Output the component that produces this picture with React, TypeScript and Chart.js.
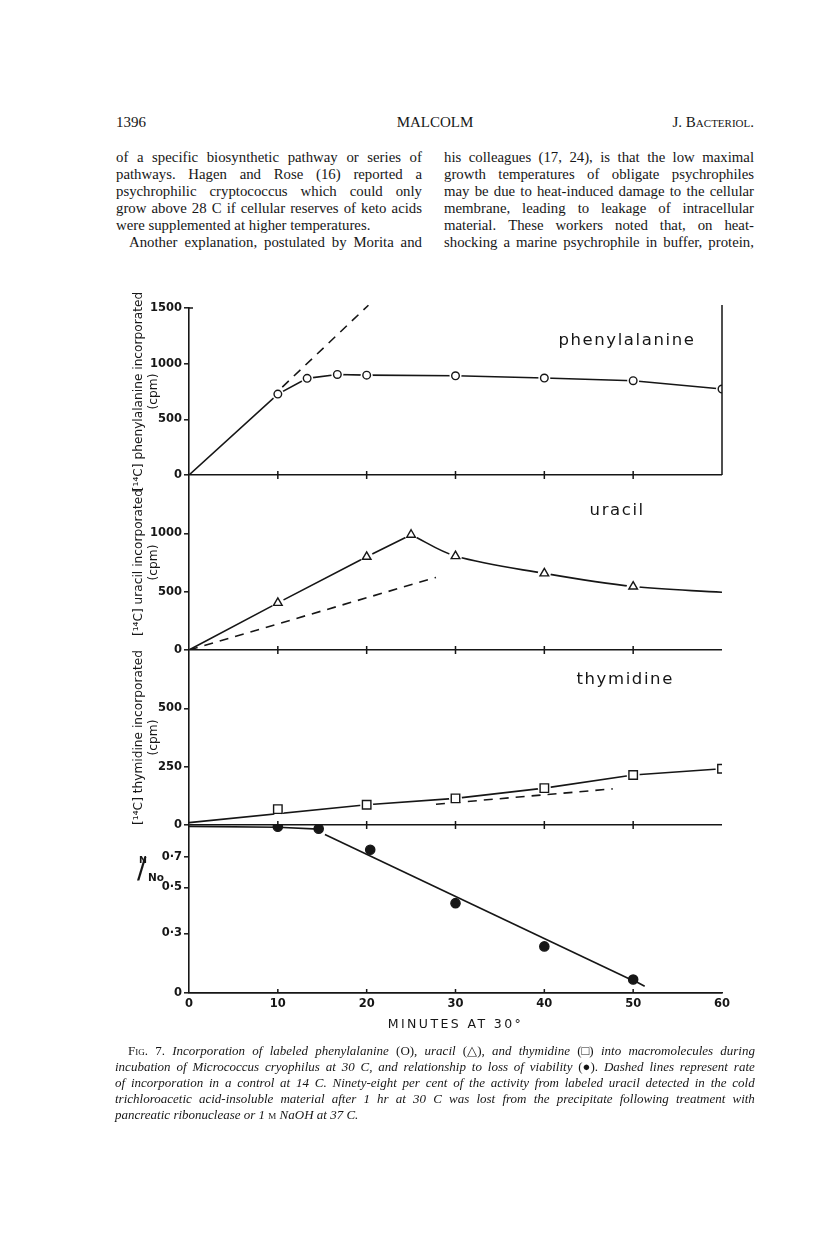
import React, { useEffect, useRef } from "react";
import { Chart, registerables } from "chart.js";

Chart.register(...registerables);

// ---------------- data ----------------
const minuteTicks = [0, 10, 20, 30, 40, 50, 60];

// Panel 1 - [14C] phenylalanine incorporated (cpm), circles
const pheMinutes = [10, 13.3, 16.7, 20, 30, 40, 50, 60];
const pheCpm = [727, 868, 903, 897, 891, 871, 847, 772];
const pheLineMinutes = [0, 10, 13.3, 16.7, 20, 30, 40, 50, 60];
const pheLineCpm = [0, 727, 868, 903, 897, 891, 871, 847, 772];
const pheControlMinutes = [10.5, 20.2];
const pheControlCpm = [790, 1525];
const pheTicks = [0, 500, 1000, 1500];
const pheTickLabels = ["0", "500", "1000", "1500"];

// Panel 2 - [14C] uracil incorporated (cpm), triangles
const uraMinutes = [10, 20, 25, 30, 40, 50];
const uraCpm = [404, 799, 988, 805, 657, 544];
const uraRiseMinutes = [0, 10, 20, 25];
const uraRiseCpm = [0, 404, 799, 988];
const uraFallMinutes = [25, 30, 40, 50, 60];
const uraFallCpm = [988, 805, 657, 544, 495];
const uraControlMinutes = [0, 27.8];
const uraControlCpm = [0, 622];
const uraTicks = [0, 500, 1000];
const uraTickLabels = ["0", "500", "1000"];

// Panel 3 - [14C] thymidine incorporated (cpm), squares
const thyMinutes = [10, 20, 30, 40, 50, 60];
const thyCpm = [68, 87, 114, 158, 214, 241];
const thyLineMinutes = [0, 20, 30, 40, 50, 60];
const thyLineCpm = [10, 87, 114, 158, 214, 241];
const thyControlMinutes = [27.8, 47.7];
const thyControlCpm = [89, 155];
const thyTicks = [0, 250, 500];
const thyTickLabels = ["0", "250", "500"];

// Panel 4 - viability N/No (log axis), filled circles
const viaMinutes = [10, 14.6, 20.4, 30, 40, 50];
const viaFraction = [0.98, 0.96, 0.76, 0.42, 0.26, 0.18];
const viaEarlyMinutes = [0, 10, 14.6];
const viaEarlyFraction = [0.985, 0.975, 0.955];
const viaFitMinutes = [15.3, 49.6];
const viaFitFraction = [0.9, 0.181];
const viaTailMinutes = [50.4, 51.3];
const viaTailFraction = [0.175, 0.167];
const viaTicks = [0.155, 0.3, 0.5, 0.7];
const viaTickLabels = ["0", "0·3", "0·5", "0·7"];

const panelNames = ["phenylalanine", "uracil", "thymidine"];

// ---------------- text ----------------
const leftColumn = [
  { t: "of a specific biosynthetic pathway or series of", j: true },
  { t: "pathways. Hagen and Rose (16) reported a", j: true },
  { t: "psychrophilic cryptococcus which could only", j: true },
  { t: "grow above 28 C if cellular reserves of keto acids", j: true },
  { t: "were supplemented at higher temperatures.", j: false },
  { t: "Another explanation, postulated by Morita and", j: true, indent: 13 },
];
const rightColumn = [
  { t: "his colleagues (17, 24), is that the low maximal", j: true },
  { t: "growth temperatures of obligate psychrophiles", j: true },
  { t: "may be due to heat-induced damage to the cellular", j: true },
  { t: "membrane, leading to leakage of intracellular", j: true },
  { t: "material. These workers noted that, on heat-", j: true },
  { t: "shocking a marine psychrophile in buffer, protein,", j: true },
];
// "^" = upright, "~" = upright small caps
const captionLines = [
  { t: "~Fig. ^7. Incorporation of labeled phenylalanine ^(O), uracil ^(△), and thymidine ^(□) into macromolecules during", j: true, indent: 13 },
  { t: "incubation of Micrococcus cryophilus at 30 C, and relationship to loss of viability ^(●). Dashed lines represent rate", j: true },
  { t: "of incorporation in a control at 14 C. Ninety-eight per cent of the activity from labeled uracil detected in the cold", j: true },
  { t: "trichloroacetic acid-insoluble material after 1 hr at 30 C was lost from the precipitate following treatment with", j: true },
  { t: "pancreatic ribonuclease or 1 ~m NaOH at 37 C.", j: false },
];

const INK = "#161616";
const SANS = '"DejaVu Sans", "Liberation Sans", sans-serif';

const pts = (xs: number[], ys: number[]) => xs.map((x, i) => ({ x, y: ys[i] }));

function lineDs(xs: number[], ys: number[], yAxisID: string, extra: any = {}) {
  return {
    data: pts(xs, ys),
    yAxisID,
    showLine: true,
    borderColor: INK,
    borderWidth: 1.6,
    pointRadius: 0,
    pointHoverRadius: 0,
    fill: false,
    tension: 0,
    order: 3,
    ...extra,
  };
}
function haloDs(xs: number[], ys: number[], yAxisID: string, r: number) {
  return {
    data: pts(xs, ys),
    yAxisID,
    showLine: false,
    pointStyle: "circle",
    pointRadius: r,
    pointHoverRadius: r,
    pointBackgroundColor: "#ffffff",
    pointBorderColor: "#ffffff",
    pointBorderWidth: 0,
    order: 2,
  };
}
function markerDs(xs: number[], ys: number[], yAxisID: string, style: string, r: number, filled = false) {
  return {
    data: pts(xs, ys),
    yAxisID,
    showLine: false,
    pointStyle: style,
    pointRadius: r,
    pointHoverRadius: r,
    pointBorderColor: INK,
    pointBorderWidth: 1.4,
    pointBackgroundColor: filled ? INK : "#ffffff",
    order: 1,
  };
}

function yScale(
  tickValues: number[],
  labels: string[],
  min: number,
  max: number,
  weight: number,
  title: string[] | null,
  type = "linear"
) {
  return {
    type,
    position: "left",
    stack: "panels",
    stackWeight: weight,
    min,
    max,
    afterBuildTicks: (s: any) => {
      s.ticks = tickValues.map((v) => ({ value: v }));
    },
    afterFit: (s: any) => {
      s.width = 79;
    },
    ticks: {
      callback: (_v: any, i: number) => labels[i],
      font: { family: SANS, size: 11.5, weight: "bold" },
      color: INK,
      padding: 2,
    },
    grid: {
      drawOnChartArea: true,
      color: (c: any) => (c.tick && c.tick.value === tickValues[0] ? INK : "rgba(0,0,0,0)"),
      lineWidth: 1.6,
      tickColor: INK,
      tickLength: 5,
      tickWidth: 1.5,
    },
    border: { display: true, color: INK, width: 1.6 },
    title: {
      display: !!title,
      text: title || "",
      font: { family: SANS, size: 12.2 },
      color: INK,
      padding: { top: 22, bottom: 0 },
    },
  };
}

const decorPlugin = {
  id: "figureDecor",
  afterDatasetsDraw(chart: any) {
    const { ctx, chartArea, scales } = chart;
    const xs = scales.x;
    const ids = ["y1", "y2", "y3", "y4"];
    ctx.save();
    ctx.strokeStyle = INK;
    ctx.lineWidth = 1.5;
    ctx.beginPath();
    ids.forEach((id, k) => {
      const yb = scales[id].bottom;
      minuteTicks.slice(1, -1).forEach((v) => {
        const px = xs.getPixelForValue(v);
        ctx.moveTo(px, yb - 4);
        ctx.lineTo(px, k < 3 ? yb + 4 : yb);
      });
    });
    // right frame of the top panel and short tick pointing in at 1500
    ctx.moveTo(chartArea.right, scales.y1.top - 3);
    ctx.lineTo(chartArea.right, scales.y1.bottom);
    ctx.moveTo(chartArea.left, scales.y1.top);
    ctx.lineTo(chartArea.left + 4, scales.y1.top);
    ctx.stroke();

    ctx.fillStyle = INK;
    ctx.font = `16.5px ${SANS}`;
    try {
      (ctx as any).letterSpacing = "1.6px";
    } catch (e) {}
    ctx.textAlign = "center";
    ctx.textBaseline = "middle";
    const spots = [
      { id: "y1", m: 49.3, v: 1205 },
      { id: "y2", m: 48.2, v: 1190 },
      { id: "y3", m: 49.1, v: 621 },
    ];
    panelNames.forEach((name, k) => {
      const s = spots[k];
      ctx.fillText(name, xs.getPixelForValue(s.m), scales[s.id].getPixelForValue(s.v));
    });
    ctx.restore();
  },
};

function Words({ text, justify, indent, italic }: { text: string; justify: boolean; indent?: number; italic?: boolean }) {
  const words = text.split(" ");
  const render = (w: string, i: number) => {
    let style: any = {};
    let s = w;
    if (w.startsWith("^")) {
      s = w.slice(1);
      style = { fontStyle: "normal" };
    } else if (w.startsWith("~")) {
      s = w.slice(1);
      style = { fontStyle: "normal", fontVariant: "small-caps" };
    }
    return (
      <span key={i} style={style}>
        {s}
      </span>
    );
  };
  if (justify) {
    return (
      <div
        style={{
          display: "flex",
          justifyContent: "space-between",
          whiteSpace: "nowrap",
          paddingLeft: indent || 0,
          fontStyle: italic ? "italic" : "normal",
        }}
      >
        {words.map(render)}
      </div>
    );
  }
  return (
    <div style={{ whiteSpace: "nowrap", paddingLeft: indent || 0, fontStyle: italic ? "italic" : "normal" }}>
      {words.map((w, i) => (
        <React.Fragment key={i}>
          {i > 0 ? " " : ""}
          {render(w, i)}
        </React.Fragment>
      ))}
    </div>
  );
}

export default function App() {
  const canvasRef = useRef<HTMLCanvasElement | null>(null);

  useEffect(() => {
    if (!canvasRef.current) return;
    const chart = new Chart(canvasRef.current, {
      type: "scatter",
      data: {
        datasets: [
          // panel 1
          lineDs(pheLineMinutes, pheLineCpm, "y1"),
          lineDs(pheControlMinutes, pheControlCpm, "y1", { borderDash: [9, 7], clip: false }),
          haloDs(pheMinutes, pheCpm, "y1", 6),
          markerDs(pheMinutes, pheCpm, "y1", "circle", 3.8),
          // panel 2
          lineDs(uraRiseMinutes, uraRiseCpm, "y2"),
          lineDs(uraFallMinutes, uraFallCpm, "y2", { tension: 0.35 }),
          lineDs(uraControlMinutes, uraControlCpm, "y2", { borderDash: [9, 7] }),
          haloDs(uraMinutes, uraCpm, "y2", 6.5),
          markerDs(uraMinutes, uraCpm, "y2", "triangle", 5),
          // panel 3
          lineDs(thyLineMinutes, thyLineCpm, "y3"),
          lineDs(thyControlMinutes, thyControlCpm, "y3", { borderDash: [9, 7] }),
          haloDs(thyMinutes, thyCpm, "y3", 6.5),
          markerDs(thyMinutes, thyCpm, "y3", "rect", 6),
          // panel 4
          lineDs(viaEarlyMinutes, viaEarlyFraction, "y4"),
          lineDs(viaFitMinutes, viaFitFraction, "y4"),
          lineDs(viaTailMinutes, viaTailFraction, "y4"),
          markerDs(viaMinutes, viaFraction, "y4", "circle", 4.6, true),
        ] as any,
      },
      options: {
        animation: false,
        responsive: true,
        maintainAspectRatio: false,
        events: [],
        layout: { padding: { top: 38, right: 18, left: 0, bottom: 0 } },
        plugins: { legend: { display: false }, tooltip: { enabled: false }, title: { display: false } },
        scales: {
          x: {
            type: "linear",
            position: "bottom",
            min: 0,
            max: 60,
            afterBuildTicks: (s: any) => {
              s.ticks = minuteTicks.map((v) => ({ value: v }));
            },
            afterFit: (s: any) => {
              s.height = 42;
            },
            ticks: { font: { family: SANS, size: 11.5, weight: "bold" }, color: INK, padding: 1, maxRotation: 0 },
            grid: { display: false, drawTicks: true, tickLength: 3 },
            border: { display: true, color: INK, width: 1.6 },
          },
          // stacked panels are placed bottom-up in definition order
          y4: yScale(viaTicks, viaTickLabels, 0.155, 1, 168, null, "logarithmic"),
          y3: yScale(thyTicks, thyTickLabels, 0, 750, 175, ["[¹⁴C] thymidine incorporated", "(cpm)"]),
          y2: yScale(uraTicks, uraTickLabels, 0, 1500, 175, ["[¹⁴C] uracil incorporated", "(cpm)"]),
          y1: yScale(pheTicks, pheTickLabels, 0, 1500, 167, ["[¹⁴C] phenylalanine incorporated", "(cpm)"]),
        } as any,
      },
      plugins: [decorPlugin],
    });
    return () => chart.destroy();
  }, []);

  const serif = '"Liberation Serif", "Times New Roman", serif';

  return (
    <div
      style={{
        position: "absolute",
        left: 0,
        top: 0,
        width: 816,
        height: 1233,
        background: "#ffffff",
        color: INK,
        fontFamily: serif,
        overflow: "hidden",
      }}
    >
      {/* running head */}
      <div style={{ position: "absolute", left: 116, top: 113, width: 638, fontSize: 15, lineHeight: "18px" }}>
        <span style={{ position: "absolute", left: 0 }}>1396</span>
        <div style={{ textAlign: "center" }}>MALCOLM</div>
        <span style={{ position: "absolute", right: 0, top: 0, fontVariant: "small-caps" }}>J. Bacteriol.</span>
      </div>

      {/* body text */}
      <div style={{ position: "absolute", left: 116, top: 149, width: 306, fontSize: 14.8, lineHeight: "17px" }}>
        {leftColumn.map((l, i) => (
          <Words key={i} text={l.t} justify={l.j} indent={l.indent} />
        ))}
      </div>
      <div style={{ position: "absolute", left: 444, top: 149, width: 310, fontSize: 14.8, lineHeight: "17px" }}>
        {rightColumn.map((l, i) => (
          <Words key={i} text={l.t} justify={l.j} />
        ))}
      </div>

      {/* figure */}
      <div style={{ position: "absolute", left: 110, top: 270, width: 630, height: 765 }}>
        <canvas ref={canvasRef} />
      </div>

      {/* N/No label of the viability panel */}
      <div style={{ position: "absolute", left: 134, top: 853, width: 40, height: 40, fontFamily: SANS, fontWeight: "bold" }}>
        <span style={{ position: "absolute", left: 5, top: 1, fontSize: 9.5 }}>N</span>
        <span style={{ position: "absolute", left: 3, top: 0, fontSize: 28, fontWeight: "normal", lineHeight: "32px" }}>/</span>
        <span style={{ position: "absolute", left: 14, top: 18, fontSize: 10.5 }}>No</span>
      </div>

      {/* x-axis title */}
      <div
        style={{
          position: "absolute",
          left: 189,
          width: 533,
          top: 1016,
          textAlign: "center",
          fontFamily: SANS,
          fontSize: 12.5,
          letterSpacing: 2.4,
          lineHeight: "15px",
        }}
      >
        MINUTES AT 30°
      </div>

      {/* caption */}
      <div style={{ position: "absolute", left: 115, top: 1043, width: 640, fontSize: 13, lineHeight: "16px" }}>
        {captionLines.map((l, i) => (
          <Words key={i} text={l.t} justify={l.j} indent={l.indent} italic />
        ))}
      </div>
    </div>
  );
}
